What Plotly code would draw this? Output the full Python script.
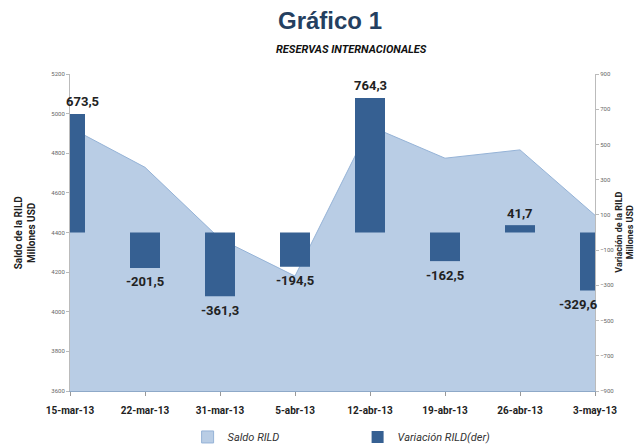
import plotly.graph_objects as go

# Semanas y datos
fechas = ["15-mar-13", "22-mar-13", "31-mar-13", "5-abr-13",
          "12-abr-13", "19-abr-13", "26-abr-13", "3-may-13"]
saldo_rild = [4930, 4729, 4368, 4180, 4937, 4775, 4817, 4487]
variacion_rild = [673.5, -201.5, -361.3, -194.5, 764.3, -162.5, 41.7, -329.6]
etiquetas_variacion = ["673,5", "-201,5", "-361,3", "-194,5",
                       "764,3", "-162,5", "41,7", "-329,6"]
ticks_der = [-900, -700, -500, -300, -100, 100, 300, 500, 700, 900]

COLOR_AREA = "#B9CDE5"
COLOR_LINEA = "#95B3D7"
COLOR_BARRA = "#366092"
FUENTE = "Liberation Sans Narrow, Roboto, Arial, sans-serif"

pos = list(range(len(fechas)))

fig = go.Figure()

fig.add_trace(
    go.Scatter(
        x=pos,
        y=saldo_rild,
        name="Saldo RILD",
        mode="lines",
        fill="tozeroy",
        fillcolor=COLOR_AREA,
        line=dict(color=COLOR_LINEA, width=1),
        yaxis="y",
        showlegend=False,
    )
)

fig.add_trace(
    go.Bar(
        x=pos,
        y=variacion_rild,
        name="Variación RILD(der)",
        marker=dict(color=COLOR_BARRA, line=dict(width=0)),
        width=0.4,
        yaxis="y2",
        showlegend=False,
    )
)

# entradas de leyenda (cuadritos como en Excel)
fig.add_trace(go.Bar(x=[None], y=[None], name="Saldo RILD", yaxis="y2",
                     marker=dict(color=COLOR_AREA, line=dict(color=COLOR_LINEA, width=1))))
fig.add_trace(go.Bar(x=[None], y=[None], name="Variación RILD(der)", yaxis="y2",
                     marker=dict(color=COLOR_BARRA, line=dict(width=0))))

# etiquetas de las barras
for i, (v, t) in enumerate(zip(variacion_rild, etiquetas_variacion)):
    xshift = 0
    if i == 0:
        xshift = 12
    elif i == len(fechas) - 1:
        xshift = -17
    fig.add_annotation(
        x=i, y=v, xref="x", yref="y2", text=t, showarrow=False,
        yshift=12 if v > 0 else -14, xshift=xshift,
        font=dict(family=FUENTE, size=13, color="#222222", weight="bold"),
    )

# titulos
fig.add_annotation(
    x=0.495, y=1.17, xref="paper", yref="paper", xanchor="center", yanchor="middle",
    text="<b>Gráfico 1</b>", showarrow=False,
    font=dict(family="Liberation Sans, Arial, sans-serif", size=24, color="#243F60"),
)
fig.add_annotation(
    x=0.537, y=1.076, xref="paper", yref="paper", xanchor="center", yanchor="middle",
    text="<b><i>RESERVAS INTERNACIONALES</i></b>", showarrow=False,
    font=dict(family=FUENTE, size=11, color="#111111"),
)
fig.add_annotation(
    x=-0.086, y=0.5, xref="paper", yref="paper", textangle=-90,
    xanchor="center", yanchor="middle",
    text="<b>Saldo de la RILD<br>Millones USD</b>", showarrow=False,
    font=dict(family=FUENTE, size=10, color="#222222"),
)
fig.add_annotation(
    x=1.031, y=0.5, xref="paper", yref="paper", textangle=-90,
    xanchor="left", yanchor="middle",
    text="<b>Variación de la RILD<br>Millones USD</b>", showarrow=False,
    font=dict(family=FUENTE, size=9, color="#222222"),
)

fig.update_layout(
    width=634,
    height=445,
    margin=dict(l=70, r=39, t=74, b=54, autoexpand=False),
    paper_bgcolor="white",
    plot_bgcolor="white",
    barmode="overlay",
    xaxis=dict(
        range=[0, 7],
        tickvals=pos,
        ticktext=fechas,
        showgrid=False,
        zeroline=False,
        showline=True,
        linecolor="#8EA9C8",
        ticks="outside",
        ticklen=4,
        tickcolor="#999999",
        ticklabelstandoff=6,
        tickfont=dict(family=FUENTE, size=10, color="#222222", weight="bold"),
        automargin=False,
    ),
    yaxis=dict(
        range=[3600, 5200],
        dtick=200,
        tickformat="d",
        showgrid=False,
        zeroline=False,
        showline=True,
        linecolor="#BBBBBB",
        ticks="outside",
        ticklen=3,
        tickcolor="#BBBBBB",
        tickfont=dict(family=FUENTE, size=6, color="#666666"),
        automargin=False,
    ),
    yaxis2=dict(
        range=[-900, 900],
        tickvals=ticks_der,
        overlaying="y",
        side="right",
        showgrid=False,
        zeroline=False,
        showline=True,
        linecolor="#BBBBBB",
        ticks="outside",
        ticklen=3,
        tickcolor="#BBBBBB",
        tickfont=dict(family=FUENTE, size=6, color="#666666"),
        automargin=False,
    ),
    legend=dict(
        orientation="h",
        x=0.224,
        xanchor="left",
        y=-0.145,
        yanchor="middle",
        entrywidth=125,
        entrywidthmode="pixels",
        font=dict(family=FUENTE, size=11, color="#333333", style="italic"),
        traceorder="normal",
    ),
)

fig.write_html(
    "out.html",
    config={"displayModeBar": False},
    post_script="document.body.style.margin='0';",
)
